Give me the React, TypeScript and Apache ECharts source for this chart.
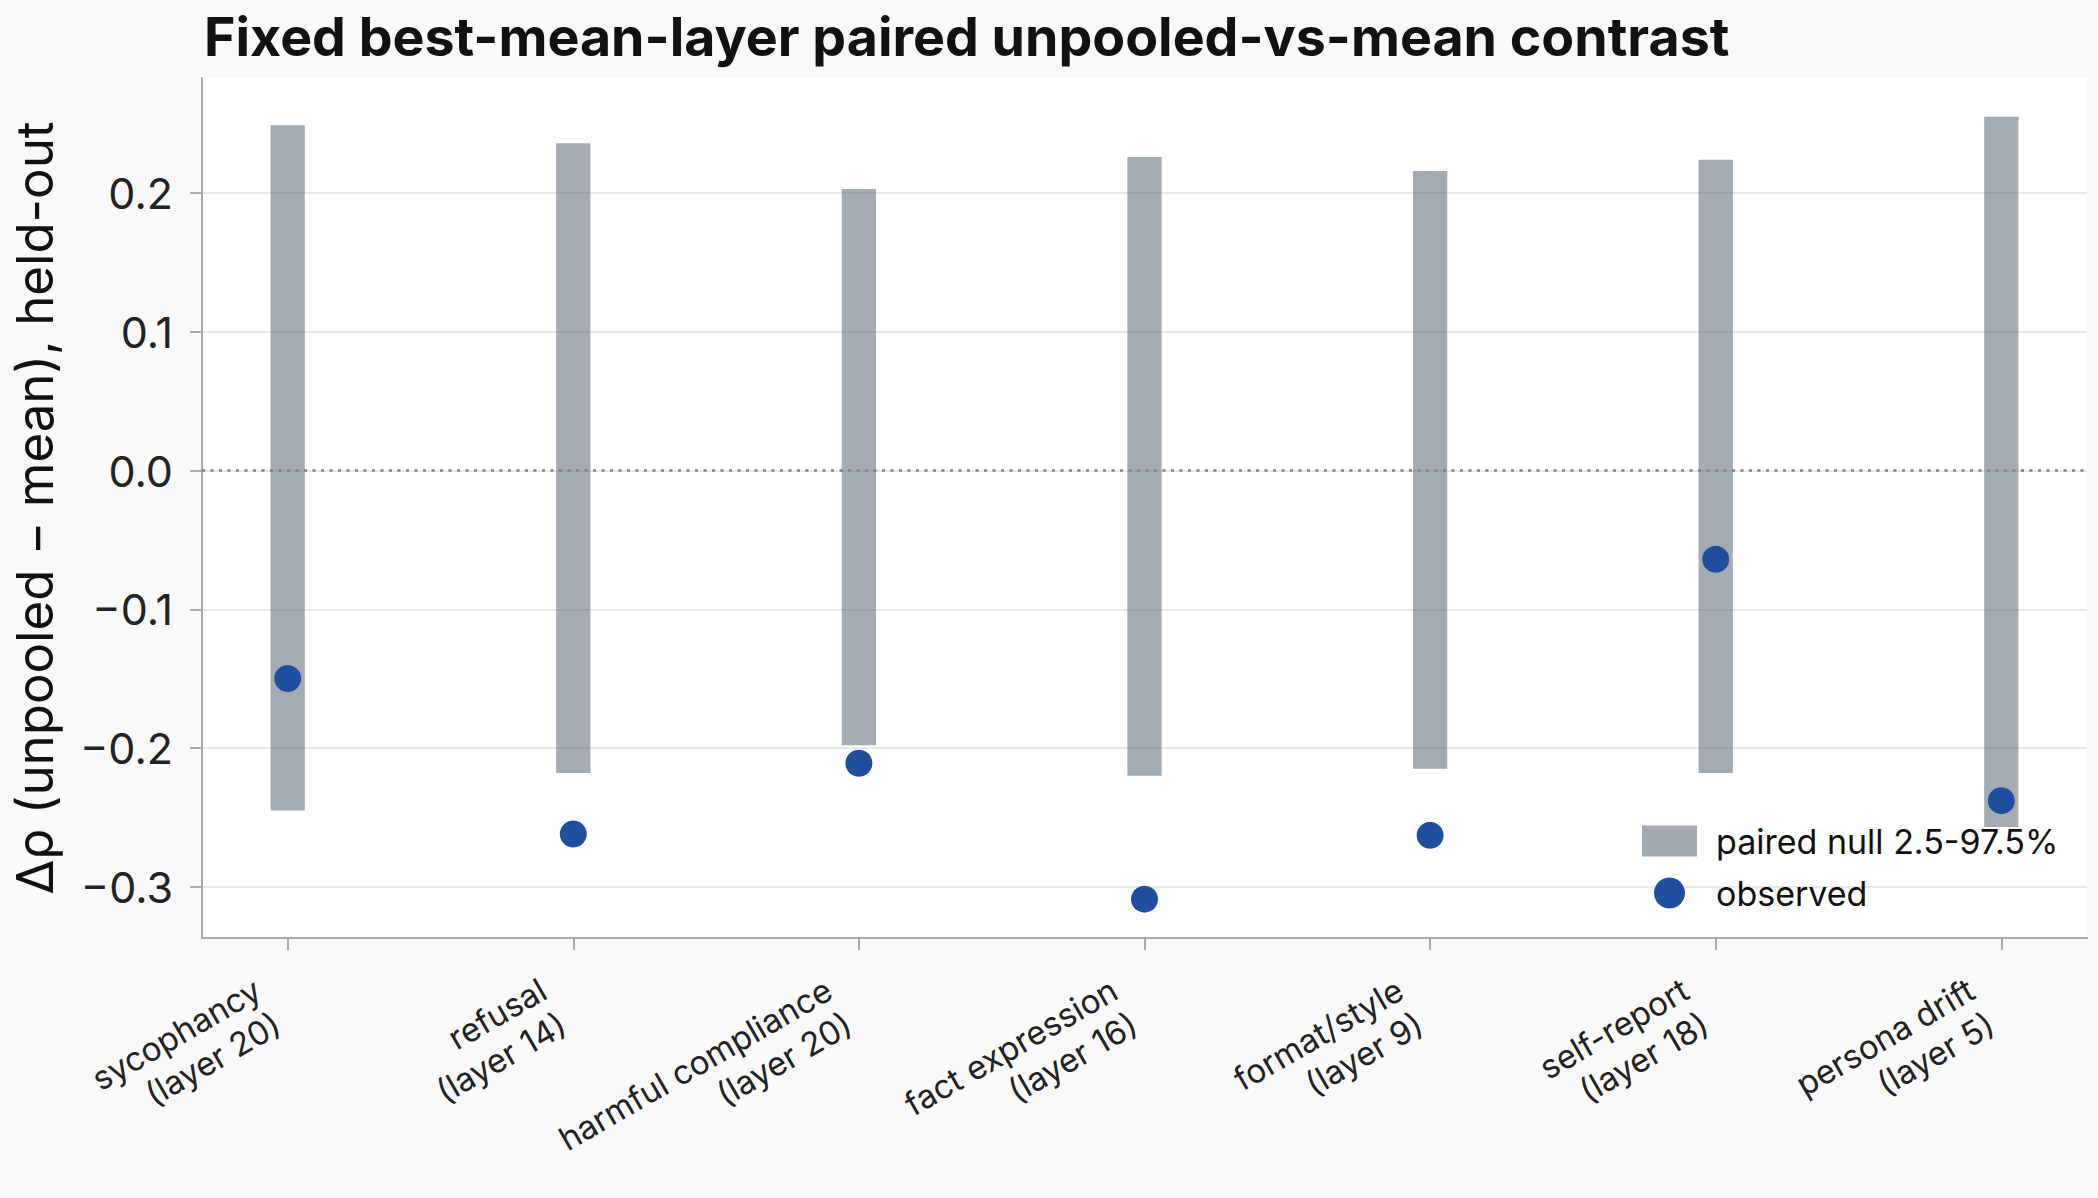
import React, { useEffect, useRef } from "react";
import * as echarts from "echarts";

const categories = [
  "sycophancy\n(layer 20)",
  "refusal\n(layer 14)",
  "harmful compliance\n(layer 20)",
  "fact expression\n(layer 16)",
  "format/style\n(layer 9)",
  "self-report\n(layer 18)",
  "persona drift\n(layer 5)",
];
const nullLow = [-0.245, -0.218, -0.198, -0.220, -0.215, -0.218, -0.257];
const nullHigh = [0.249, 0.236, 0.203, 0.226, 0.216, 0.224, 0.255];
const observed = [-0.150, -0.262, -0.211, -0.309, -0.263, -0.064, -0.238];
const yTicks = [-0.3, -0.2, -0.1, 0.0, 0.1, 0.2];
const xTicks = [0, 1, 2, 3, 4, 5, 6];

const FONT = "Inter";

export default function App() {
  const ref = useRef<HTMLDivElement>(null);
  useEffect(() => {
    const chart = echarts.init(ref.current!, null, { renderer: "svg" });
    const barData = categories.map((_, i) => [i, nullLow[i], nullHigh[i]]);
    const obsData = categories.map((_, i) => [i, observed[i]]);
    chart.setOption({
      animation: false,
      backgroundColor: "#f9f9f9",
      title: {
        text: "Fixed best-mean-layer paired unpooled-vs-mean contrast",
        left: 199,
        top: 4,
        textStyle: { fontFamily: FONT, fontWeight: "bold", fontSize: 53.7, color: "#111" },
      },
      legend: {
        orient: "vertical",
        left: 1637,
        top: 819,
        itemWidth: 55,
        itemHeight: 31,
        itemGap: 18,
        textStyle: { fontFamily: FONT, fontSize: 34, color: "#111", padding: [0, 0, 0, 14] },
        data: [
          { name: "paired null 2.5-97.5%", icon: "rect" },
          { name: "observed", icon: "circle" },
        ],
      },
      grid: {
        left: 202,
        right: 11,
        top: 78,
        bottom: 260,
        show: true,
        backgroundColor: "#ffffff",
        borderWidth: 0,
      },
      xAxis: {
        type: "value",
        min: -0.3,
        max: 6.3,
        axisLine: { show: true, onZero: false, lineStyle: { color: "#aaaaaa", width: 2 } },
        axisTick: { show: true, customValues: xTicks, length: 12, lineStyle: { color: "#aaaaaa", width: 2 } },
        splitLine: { show: false },
        axisLabel: {
          customValues: xTicks,
          formatter: (v: number) => categories[Math.round(v)] ?? "",
          rotate: 30,
          align: "right",
          verticalAlign: "bottom",
          margin: 101,
          fontFamily: FONT,
          fontSize: 33,
          lineHeight: 40,
          color: "#222",
        },
      },
      yAxis: {
        type: "value",
        min: -0.337,
        max: 0.283,
        name: "Δρ (unpooled − mean), held-out",
        nameLocation: "middle",
        nameGap: 142,
        nameTextStyle: { fontFamily: FONT, fontSize: 51, color: "#111" },
        axisLine: { show: true, onZero: false, lineStyle: { color: "#aaaaaa", width: 2 } },
        axisTick: { show: true, customValues: yTicks, length: 12, lineStyle: { color: "#aaaaaa", width: 2 } },
        splitLine: { show: true, lineStyle: { color: "#e8e8e8", width: 2 } },
        axisLabel: {
          customValues: yTicks,
          formatter: (v: number) => (v < -1e-9 ? "−" + Math.abs(v).toFixed(1) : Math.abs(v).toFixed(1)),
          margin: 29,
          fontFamily: FONT,
          fontSize: 43,
          color: "#222",
        },
      },
      series: [
        {
          name: "paired null 2.5-97.5%",
          type: "custom",
          data: barData,
          itemStyle: { color: "#a3aab1" },
          encode: { x: 0, y: [1, 2] },
          renderItem: (params: any, api: any) => {
            const i = api.value(0);
            const top = api.coord([i, api.value(2)]);
            const bot = api.coord([i, api.value(1)]);
            const w = api.size([0.12, 0])[0];
            return {
              type: "rect",
              shape: { x: top[0] - w / 2, y: top[1], width: w, height: bot[1] - top[1] },
              style: { fill: "rgba(98,110,123,0.58)" },
            };
          },
          z: 2,
        },
        {
          name: "observed",
          type: "scatter",
          data: obsData,
          symbolSize: 27,
          itemStyle: { color: "#1f4e9f", opacity: 1 },
          z: 4,
          markLine: {
            silent: true,
            symbol: "none",
            label: { show: false },
            lineStyle: { color: "#808080", width: 2.5, type: [3, 5.5] },
            data: [{ yAxis: 0 }],
          },
        },
      ],
    });
    return () => chart.dispose();
  }, []);
  return (
    <div
      ref={ref}
      style={{ position: "fixed", left: 0, top: 0, width: 2098, height: 1198 }}
    />
  );
}
